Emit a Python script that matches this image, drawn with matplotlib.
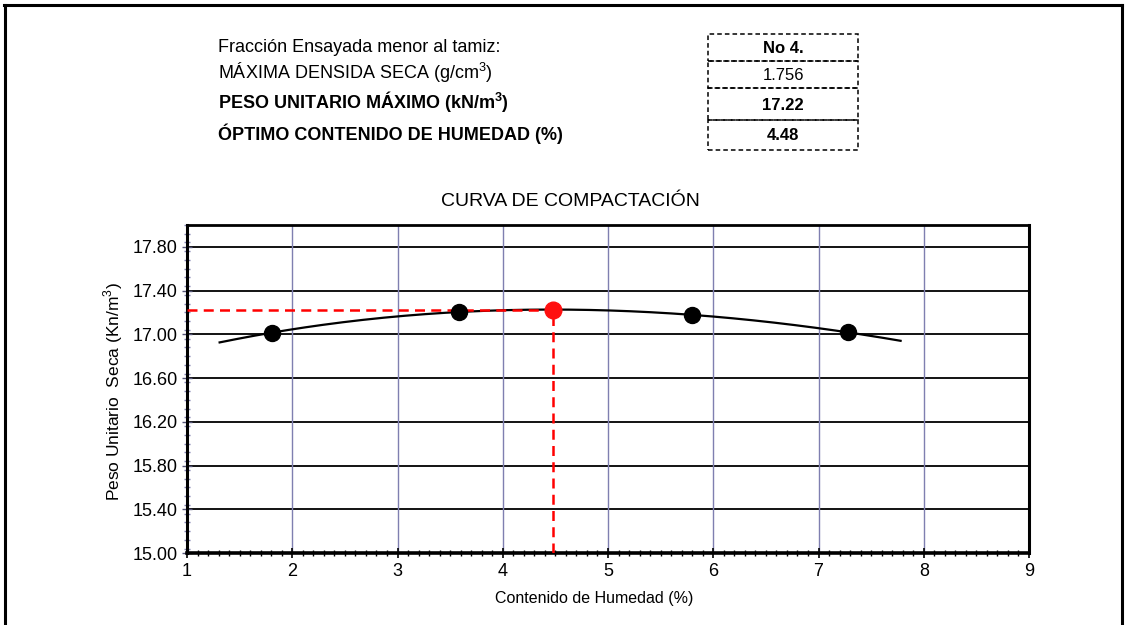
import numpy as np
import matplotlib
matplotlib.use("Agg")
import matplotlib.pyplot as plt
from matplotlib.lines import Line2D
from matplotlib.patches import Rectangle
from matplotlib.ticker import MultipleLocator, FixedLocator

plt.rcParams['font.family'] = ['Liberation Sans', 'DejaVu Sans']
plt.rcParams['mathtext.fontset'] = 'custom'
plt.rcParams['mathtext.rm'] = 'Liberation Sans'
plt.rcParams['mathtext.bf'] = 'Liberation Sans:bold'

# Data
humedad = [1.81, 3.58, 5.80, 7.28]
peso = [17.016, 17.204, 17.178, 17.018]
opt_hum = 4.48
max_peso = 17.22
curve_range = [1.31, 7.78]

info_labels = ["Fracción Ensayada menor al tamiz:",
               "MÁXIMA DENSIDA SECA (g/cm$^3$)",
               "PESO UNITARIO MÁXIMO (kN/m$^\\mathbf{3}$)",
               "ÓPTIMO CONTENIDO DE HUMEDAD (%)"]
info_values = ["No 4.", "1.756", "17.22", "4.48"]
info_bold_label = [False, False, True, True]
info_bold_value = [True, False, True, True]

x_ticks = [1, 2, 3, 4, 5, 6, 7, 8, 9]
y_ticks = [15.00, 15.40, 15.80, 16.20, 16.60, 17.00, 17.40, 17.80]

W, H = 1126, 625
fig = plt.figure(figsize=(W / 100, H / 100), dpi=100)

def fx(px):
    return px / W

def fy(py):
    return 1 - py / H

# outer frame
fig.add_artist(Line2D([fx(4), fx(1122)], [fy(5), fy(5)], color='black', lw=2.2))
fig.add_artist(Line2D([fx(4.5), fx(4.5)], [fy(5), fy(625)], color='black', lw=2.2))
fig.add_artist(Line2D([fx(1122), fx(1122)], [fy(5), fy(625)], color='black', lw=2.2))

# info block
row_y = [47, 73, 101, 134]
for lab, yy, b in zip(info_labels, row_y, info_bold_label):
    fig.text(fx(218), fy(yy), lab, fontsize=13, fontweight='bold' if b else 'normal',
             va='center', ha='left')
box_edges = [34, 61, 88, 120, 150]
for i, (val, b) in enumerate(zip(info_values, info_bold_value)):
    y0, y1 = box_edges[i], box_edges[i + 1]
    rect = Rectangle((fx(708), fy(y1)), fx(858) - fx(708), fy(y0) - fy(y1),
                     transform=fig.transFigure, fill=False, edgecolor='black',
                     lw=1.1, linestyle=(0, (3, 2)))
    fig.add_artist(rect)
    fig.text(fx(783), fy((y0 + y1) / 2 + 1), val, fontsize=12,
             fontweight='bold' if b else 'normal', ha='center', va='center')

fig.text(fx(570), fy(201), "CURVA DE COMPACTACIÓN", fontsize=14, ha='center', va='center')

ax = fig.add_axes([fx(187), fy(553), fx(1029) - fx(187), fy(225) - fy(553)])
ax.set_xlim(1, 9)
ax.set_ylim(15.0, 18.0)

# grid
for yv in y_ticks[1:] + [18.0]:
    ax.axhline(yv, color='black', lw=1.3, zorder=1)
for xv in x_ticks[1:-1]:
    ax.axvline(xv, color='#7f7fb0', lw=1.0, zorder=1)

# fitted curve (3rd order polynomial trendline)
coef = np.polyfit(humedad, peso, 3)
xc = np.linspace(curve_range[0], curve_range[1], 200)
ax.plot(xc, np.polyval(coef, xc), color='black', lw=1.6, zorder=3)

# optimum lines
ax.plot([1, opt_hum], [max_peso, max_peso], color='#ff0000', lw=1.8,
        linestyle=(0, (4, 2.5)), zorder=4)
ax.plot([opt_hum, opt_hum], [15.0, max_peso], color='#ff0000', lw=1.8,
        linestyle=(0, (4, 2.5)), zorder=4)

ax.plot(humedad, peso, 'o', color='black', markersize=11.5, zorder=5)
ax.plot([opt_hum], [max_peso], 'o', color='#ff1010', markersize=12, zorder=6)

ax.xaxis.set_major_locator(FixedLocator(x_ticks))
ax.xaxis.set_minor_locator(MultipleLocator(0.1))
ax.yaxis.set_major_locator(FixedLocator(y_ticks))
ax.yaxis.set_minor_locator(MultipleLocator(0.08))
ax.set_xticklabels([str(v) for v in x_ticks])
ax.set_yticklabels([f"{v:.2f}" for v in y_ticks])
ax.tick_params(axis='both', which='major', labelsize=13, direction='inout')
ax.tick_params(axis='x', which='major', length=7, width=1.2, color='black', pad=4)
ax.tick_params(axis='x', which='minor', length=5, width=1.0, color='black', direction='inout')
ax.tick_params(axis='y', which='major', length=7, width=1.0, color='#555577', pad=3)
ax.tick_params(axis='y', which='minor', length=5, width=1.0, color='#8080b0', direction='inout')

for side, lw in [('left', 2.2), ('bottom', 2.6), ('right', 2.2), ('top', 2.0)]:
    ax.spines[side].set_linewidth(lw)
    ax.spines[side].set_color('black')

ax.set_xlabel("Contenido de Humedad (%)", fontsize=11.5)
ax.xaxis.set_label_coords((594 - 187) / 842, -(598 - 553) / 328, transform=ax.transAxes)
ax.xaxis.label.set_va('center')
ax.set_ylabel("Peso Unitario  Seca (Kn/m$^3$)", fontsize=12.5)
ax.yaxis.set_label_coords(-(187 - 113) / 842, (553 - 392) / 328, transform=ax.transAxes)
ax.yaxis.label.set_va('center')

fig.savefig("out.png", dpi=100)
